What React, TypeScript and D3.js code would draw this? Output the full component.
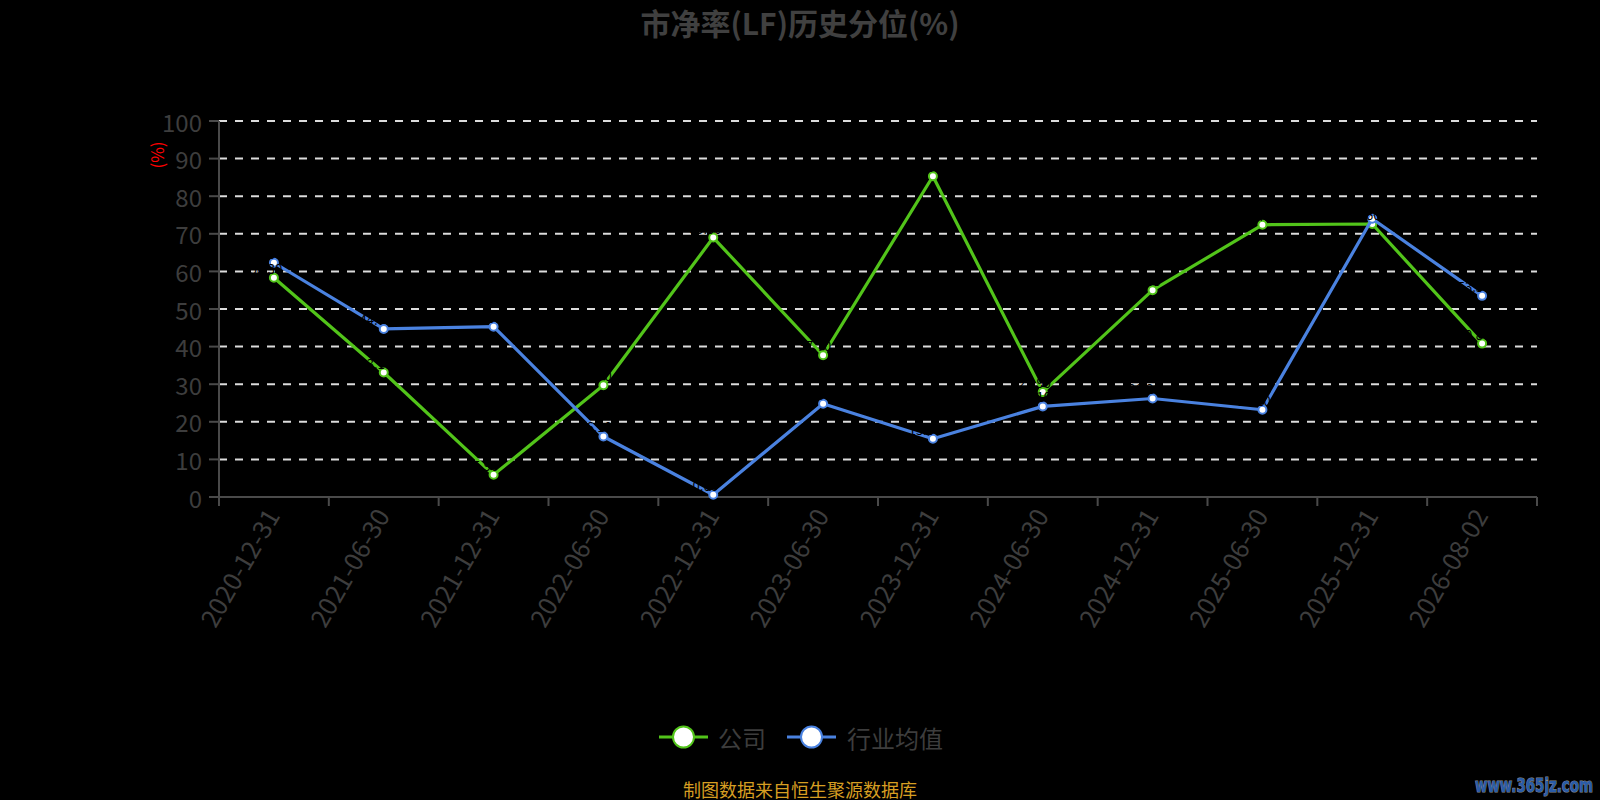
import React, { useEffect } from 'react';
import * as d3 from 'd3';

const categories = [
  '2020-12-31', '2021-06-30', '2021-12-31', '2022-06-30', '2022-12-31', '2023-06-30',
  '2023-12-31', '2024-06-30', '2024-12-31', '2025-06-30', '2025-12-31', '2026-08-02',
];
const companyValues = [58.3, 33.1, 5.9, 29.7, 69.0, 37.7, 85.3, 27.9, 55.0, 72.4, 72.6, 40.8];
const industryValues = [62.3, 44.7, 45.3, 16.1, 0.6, 24.8, 15.5, 24.1, 26.2, 23.2, 74.0, 53.5];
const yTicks = [0, 10, 20, 30, 40, 50, 60, 70, 80, 90, 100];

const series = [
  { name: '公司', color: '#52c41a', values: companyValues },
  { name: '行业均值', color: '#4a82e0', values: industryValues },
];

const W = 1600;
const H = 800;
const margin = { left: 219, right: 63, top: 121, bottom: 303 };
const FONT = '"Noto Sans CJK SC", "Noto Sans", sans-serif';
const GRAY = '#3d3d3d';

const App: React.FC = () => {
  useEffect(() => {
    document.body.style.margin = '0';
    document.body.style.background = '#000';
  }, []);

  const x = d3.scaleBand<string>().domain(categories).range([margin.left, W - margin.right]);
  const y = d3.scaleLinear().domain([0, 100]).range([H - margin.bottom, margin.top]);
  const cx = (c: string) => (x(c) || 0) + x.bandwidth() / 2;
  const line = d3.line<number>()
    .x((_, i) => cx(categories[i]))
    .y(d => y(d));

  const x0 = margin.left;
  const x1 = W - margin.right;
  const y0 = y(0);

  return (
    <svg width={W} height={H} style={{ display: 'block', background: '#000' }} fontFamily={FONT}>
      {/* title */}
      <text x={W / 2} y={22} textAnchor="middle" dominantBaseline="central"
        fontSize={30} fontWeight="bold" fill="#404040">市净率(LF)历史分位(%)</text>

      {/* grid */}
      {yTicks.filter(t => t > 0).map(t => (
        <line key={t} x1={x0} x2={x1} y1={y(t)} y2={y(t)}
          stroke="#dcdcdc" strokeWidth={2} strokeDasharray="8,8" />
      ))}

      {/* y axis */}
      <line x1={x0} x2={x0} y1={y(100)} y2={y0} stroke="#4a4a4a" strokeWidth={2} />
      {yTicks.map(t => (
        <g key={t}>
          <line x1={x0 - 10} x2={x0} y1={y(t)} y2={y(t)} stroke="#4a4a4a" strokeWidth={2} />
          <text x={x0 - 17} y={y(t)} textAnchor="end" dominantBaseline="central"
            fontSize={24} fill={GRAY}>{t}</text>
        </g>
      ))}
      <text transform={`translate(156,155) rotate(-90)`} textAnchor="middle"
        dominantBaseline="central" fontSize={17} fill="#ff0000">(%)</text>

      {/* x axis */}
      <line x1={x0} x2={x1} y1={y0} y2={y0} stroke="#4a4a4a" strokeWidth={2} />
      {categories.map(c => (
        <line key={'t' + c} x1={x(c)} x2={x(c)} y1={y0} y2={y0 + 9} stroke="#4a4a4a" strokeWidth={2} />
      ))}
      <line x1={x1} x2={x1} y1={y0} y2={y0 + 9} stroke="#4a4a4a" strokeWidth={2} />
      {categories.map(c => (
        <text key={'l' + c} transform={`translate(${cx(c) - 3},${y0 + 13}) rotate(-60)`}
          textAnchor="end" dominantBaseline="central" fontSize={25.5} fill={GRAY}>{c}</text>
      ))}

      {/* series */}
      {series.map(s => (
        <g key={s.name}>
          <path d={line(s.values) || ''} fill="none" stroke={s.color} strokeWidth={3.2}
            strokeLinejoin="round" />
          {s.values.map((v, i) => (
            <circle key={i} cx={cx(categories[i])} cy={y(v)} r={4} fill="#fff"
              stroke={s.color} strokeWidth={2} />
          ))}
        </g>
      ))}
      {/* value labels (black on black) */}
      {series.map(s => s.values.map((v, i) => (
        <text key={s.name + i} x={cx(categories[i]) - 8} y={y(v) - 4} textAnchor="middle"
          fontSize={13} fill="#000">{v.toFixed(2)}</text>
      )))}

      {/* legend */}
      {[{ s: series[0], lx: 659, tx: 718 }, { s: series[1], lx: 787, tx: 847 }].map(({ s, lx, tx }) => (
        <g key={'lg' + s.name}>
          <line x1={lx} x2={lx + 49} y1={737} y2={737} stroke={s.color} strokeWidth={3} />
          <circle cx={lx + 24.5} cy={737} r={10.5} fill="#fff" stroke={s.color} strokeWidth={2} />
          <text x={tx} y={737} dominantBaseline="central" fontSize={24} fill={GRAY}>{s.name}</text>
        </g>
      ))}

      {/* footer */}
      <text x={683} y={789} dominantBaseline="central" fontSize={18} fill="#d69e22">制图数据来自恒生聚源数据库</text>
      <text x={1475} y={785} dominantBaseline="central" fontSize={20}
        fontWeight="bold" fill="#2a5ca8" stroke="#8a8a8a" strokeWidth={1.2}
        paintOrder="stroke" fontFamily='"DejaVu Sans", sans-serif'
        textLength={118} lengthAdjust="spacingAndGlyphs">www.365jz.com</text>
    </svg>
  );
};

export default App;
